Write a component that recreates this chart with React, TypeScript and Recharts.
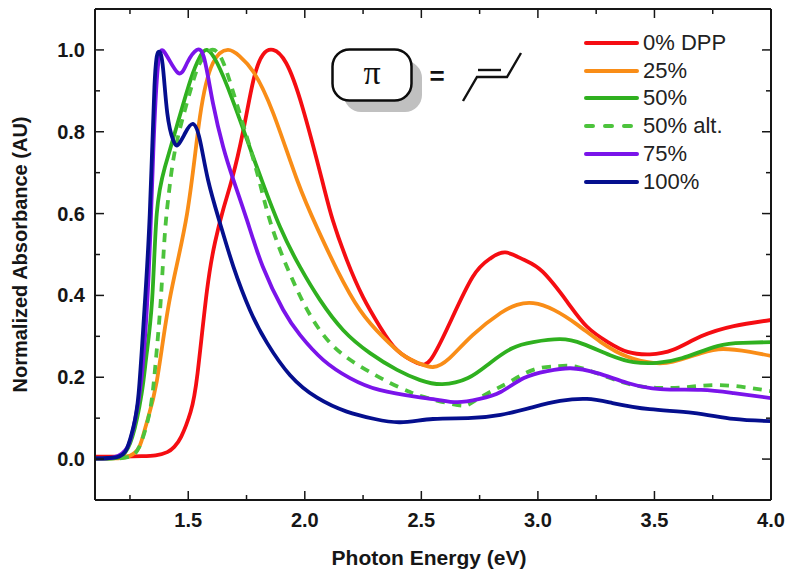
import { LineChart, Line, XAxis, YAxis } from "recharts";

const FONT = "'Liberation Sans', Arial, sans-serif";
const INK = "#161616";

const xTicks = [1.25, 1.5, 1.75, 2.0, 2.25, 2.5, 2.75, 3.0, 3.25, 3.5, 3.75, 4.0];
const yTicks = [0, 0.1, 0.2, 0.3, 0.4, 0.5, 0.6, 0.7, 0.8, 0.9, 1.0];
const xMajor = [1.5, 2.0, 2.5, 3.0, 3.5, 4.0];
const yMajor = [0, 0.2, 0.4, 0.6, 0.8, 1.0];

const redX = [1.1, 1.2, 1.3, 1.36, 1.41, 1.44, 1.47, 1.51, 1.54, 1.58, 1.615, 1.65, 1.688, 1.735, 1.78, 1.82, 1.864, 1.92, 1.99, 2.074, 2.12, 2.18, 2.25, 2.323, 2.396, 2.482, 2.54, 2.62, 2.72, 2.795, 2.86, 2.94, 3.02, 3.125, 3.21, 3.3, 3.385, 3.48, 3.58, 3.7, 3.84, 4.0];
const redY = [0.006, 0.006, 0.007, 0.009, 0.017, 0.03, 0.055, 0.115, 0.21, 0.41, 0.53, 0.61, 0.685, 0.8, 0.927, 0.988, 1.0, 0.968, 0.86, 0.682, 0.584, 0.487, 0.396, 0.323, 0.266, 0.235, 0.243, 0.33, 0.445, 0.49, 0.505, 0.487, 0.458, 0.385, 0.324, 0.286, 0.262, 0.256, 0.267, 0.3, 0.325, 0.34];

const orangeX = [1.1, 1.2, 1.25, 1.29, 1.32, 1.365, 1.42, 1.495, 1.55, 1.606, 1.67, 1.72, 1.78, 1.864, 1.967, 2.053, 2.139, 2.237, 2.336, 2.422, 2.486, 2.55, 2.62, 2.72, 2.84, 2.91, 2.98, 3.07, 3.17, 3.27, 3.385, 3.495, 3.58, 3.7, 3.795, 3.91, 4.0];
const orangeY = [0.002, 0.002, 0.008, 0.03, 0.085, 0.19, 0.389, 0.6, 0.836, 0.968, 1.0, 0.985, 0.946, 0.846, 0.682, 0.565, 0.462, 0.364, 0.298, 0.254, 0.235, 0.225, 0.246, 0.303, 0.357, 0.377, 0.381, 0.364, 0.328, 0.286, 0.25, 0.235, 0.238, 0.259, 0.269, 0.262, 0.252];

const greenX = [1.1, 1.18, 1.22, 1.26, 1.3, 1.32, 1.345, 1.365, 1.4, 1.45, 1.51, 1.55, 1.58, 1.624, 1.69, 1.765, 1.815, 1.894, 1.98, 2.065, 2.165, 2.28, 2.396, 2.495, 2.59, 2.7, 2.795, 2.89, 2.98, 3.095, 3.195, 3.31, 3.41, 3.51, 3.62, 3.77, 3.88, 4.0];
const greenY = [0.0, 0.002, 0.01, 0.054, 0.16, 0.25, 0.389, 0.6, 0.714, 0.812, 0.927, 0.983, 1.0, 0.968, 0.878, 0.76, 0.682, 0.567, 0.469, 0.389, 0.315, 0.259, 0.218, 0.193, 0.183, 0.198, 0.235, 0.271, 0.286, 0.293, 0.281, 0.254, 0.237, 0.235, 0.247, 0.276, 0.284, 0.286];

const altX = [1.207, 1.25, 1.29, 1.33, 1.35, 1.365, 1.383, 1.4, 1.42, 1.45, 1.51, 1.55, 1.6, 1.645, 1.69, 1.75, 1.8, 1.843, 1.894, 1.954, 2.023, 2.117, 2.237, 2.366, 2.443, 2.51, 2.655, 2.72, 2.795, 2.87, 2.98, 3.08, 3.17, 3.3, 3.41, 3.52, 3.64, 3.77, 3.91, 4.0];
const altY = [0.002, 0.006, 0.03, 0.103, 0.176, 0.267, 0.396, 0.553, 0.665, 0.773, 0.902, 0.968, 1.0, 0.976, 0.902, 0.79, 0.69, 0.597, 0.511, 0.43, 0.352, 0.279, 0.227, 0.186, 0.166, 0.152, 0.132, 0.139, 0.164, 0.186, 0.218, 0.227, 0.225, 0.2, 0.181, 0.174, 0.176, 0.181, 0.174, 0.166];

const purpleX = [1.1, 1.18, 1.24, 1.27, 1.3, 1.33, 1.35, 1.37, 1.4, 1.456, 1.495, 1.537, 1.57, 1.606, 1.65, 1.694, 1.752, 1.82, 1.907, 1.98, 2.08, 2.194, 2.32, 2.48, 2.57, 2.655, 2.75, 2.84, 2.94, 3.04, 3.14, 3.255, 3.385, 3.525, 3.7, 3.84, 4.0];
const purpleY = [0.001, 0.004, 0.03, 0.09, 0.2, 0.45, 0.75, 0.96, 0.993, 0.944, 0.968, 1.0, 0.976, 0.87, 0.763, 0.682, 0.584, 0.47, 0.365, 0.303, 0.242, 0.198, 0.169, 0.152, 0.145, 0.139, 0.147, 0.164, 0.198, 0.215, 0.222, 0.21, 0.186, 0.171, 0.169, 0.161, 0.149];

const navyX = [1.1, 1.194, 1.237, 1.265, 1.287, 1.31, 1.335, 1.355, 1.372, 1.39, 1.41, 1.435, 1.456, 1.487, 1.52, 1.55, 1.585, 1.636, 1.694, 1.765, 1.838, 1.937, 2.053, 2.18, 2.3, 2.41, 2.55, 2.7, 2.84, 2.98, 3.095, 3.21, 3.32, 3.48, 3.665, 3.84, 4.0];
const navyY = [0.002, 0.005, 0.026, 0.079, 0.16, 0.347, 0.6, 0.91, 0.995, 0.965, 0.846, 0.78, 0.768, 0.797, 0.819, 0.78, 0.682, 0.577, 0.47, 0.364, 0.284, 0.205, 0.15, 0.116, 0.098, 0.09, 0.098, 0.1, 0.108, 0.127, 0.142, 0.147, 0.137, 0.122, 0.113, 0.098, 0.093];

const zip = (xs: number[], ys: number[]) => xs.map((x, i) => ({ x, y: ys[i] }));

const series = [
  { name: "0% DPP", color: "#f50d12", data: zip(redX, redY) },
  { name: "25%", color: "#f98d17", data: zip(orangeX, orangeY) },
  { name: "50%", color: "#2fb01f", data: zip(greenX, greenY) },
  { name: "50% alt.", color: "#4cc33c", dash: "9 7.5", data: zip(altX, altY) },
  { name: "75%", color: "#7a14ea", data: zip(purpleX, purpleY) },
  { name: "100%", color: "#050f8e", data: zip(navyX, navyY) },
];

const isMajor = (list: number[], v: number) => list.some((m) => Math.abs(m - v) < 1e-6);

// ticks point into the plot on all four sides, labels only on bottom and left
function BottomTick({ x, y, payload }: any) {
  const major = isMajor(xMajor, payload.value);
  return (
    <g>
      <line x1={x} x2={x} y1={y} y2={y - (major ? 9 : 5)} stroke={INK} strokeWidth={1.5} />
      {major && (
        <text x={x} y={y + 27} textAnchor="middle" fontFamily={FONT} fontWeight="bold" fontSize={20} fill={INK}>
          {payload.value.toFixed(1)}
        </text>
      )}
    </g>
  );
}

function TopTick({ x, y, payload }: any) {
  const major = isMajor(xMajor, payload.value);
  return <line x1={x} x2={x} y1={y} y2={y + (major ? 9 : 5)} stroke={INK} strokeWidth={1.5} />;
}

function LeftTick({ x, y, payload }: any) {
  const major = isMajor(yMajor, payload.value);
  return (
    <g>
      <line x1={x} x2={x + (major ? 9 : 5)} y1={y} y2={y} stroke={INK} strokeWidth={1.5} />
      {major && (
        <text x={x - 10} y={y + 7} textAnchor="end" fontFamily={FONT} fontWeight="bold" fontSize={20} fill={INK}>
          {payload.value.toFixed(1)}
        </text>
      )}
    </g>
  );
}

function RightTick({ x, y, payload }: any) {
  const major = isMajor(yMajor, payload.value);
  return <line x1={x} x2={x - (major ? 9 : 5)} y1={y} y2={y} stroke={INK} strokeWidth={1.5} />;
}

function LegendList() {
  return (
    <div style={{ position: "absolute", left: 584, top: 29, fontFamily: FONT, fontSize: 22, color: "#222" }}>
      {series.map((s) => (
        <div key={s.name} style={{ display: "flex", alignItems: "center", height: 27.8 }}>
          <svg width={55} height={6} style={{ marginRight: 4 }}>
            <line x1={2} x2={53} y1={3} y2={3} stroke={s.color} strokeWidth={4} strokeLinecap="round" strokeDasharray={s.dash ? "7 12" : undefined} />
          </svg>
          {s.name}
        </div>
      ))}
    </div>
  );
}

function PiInset() {
  return (
    <svg width={786} height={571} style={{ position: "absolute", left: 0, top: 0, pointerEvents: "none" }}>
      <rect x={344} y={61} width={78} height={51} rx={17} fill="#c0c0c0" />
      <rect x={332.5} y={49.5} width={79} height={51} rx={17} fill="#fff" stroke="#0c0c0c" strokeWidth={2.5} />
      <text x={372} y={84} textAnchor="middle" fontFamily="'Liberation Serif', serif" fontSize={34} fill="#111">π</text>
      <text x={437} y={85} textAnchor="middle" fontFamily={FONT} fontWeight="bold" fontSize={26} fill="#111">=</text>
      <path d="M463 101 L477 77 L507 77 L521 53" fill="none" stroke="#111" strokeWidth={2.4} />
      <line x1={478} x2={501} y1={70} y2={70} stroke="#111" strokeWidth={2.4} />
    </svg>
  );
}

export default function App() {
  return (
    <div style={{ position: "absolute", left: 0, top: 0, width: 786, height: 571 }}>
      <LineChart width={786} height={571} margin={{ top: 8, right: 14, bottom: 70, left: 94 }}>
        <XAxis
          type="number"
          dataKey="x"
          domain={[1.1, 4.0]}
          ticks={xTicks}
          interval={0}
          height={1}
          tickSize={0}
          tickMargin={0}
          tickLine={false}
          tick={BottomTick}
          axisLine={{ stroke: INK, strokeWidth: 2 }}
          allowDataOverflow
          label={{ value: "Photon Energy (eV)", position: "bottom", offset: 49, dx: -4, fontFamily: FONT, fontWeight: "bold", fontSize: 21, fill: INK }}
        />
        <XAxis
          xAxisId="top"
          orientation="top"
          type="number"
          dataKey="x"
          domain={[1.1, 4.0]}
          ticks={xTicks}
          interval={0}
          height={1}
          tickSize={0}
          tickMargin={0}
          tickLine={false}
          tick={TopTick}
          axisLine={{ stroke: INK, strokeWidth: 2 }}
          allowDataOverflow
        />
        <YAxis
          type="number"
          domain={[-0.1, 1.1]}
          ticks={yTicks}
          interval={0}
          width={1}
          tickSize={0}
          tickMargin={0}
          tickLine={false}
          tick={LeftTick}
          axisLine={{ stroke: INK, strokeWidth: 2 }}
          allowDataOverflow
          label={{ value: "Normalized Absorbance (AU)", angle: -90, position: "left", offset: 74, fontFamily: FONT, fontWeight: "bold", fontSize: 20, fill: INK, style: { textAnchor: "middle" } }}
        />
        <YAxis
          yAxisId="right"
          orientation="right"
          type="number"
          domain={[-0.1, 1.1]}
          ticks={yTicks}
          interval={0}
          width={1}
          tickSize={0}
          tickMargin={0}
          tickLine={false}
          tick={RightTick}
          axisLine={{ stroke: INK, strokeWidth: 2 }}
          allowDataOverflow
        />
        {series.map((s) => (
          <Line
            key={s.name}
            data={s.data}
            dataKey="y"
            name={s.name}
            type="natural"
            stroke={s.color}
            strokeWidth={3.8}
            strokeDasharray={s.dash}
            dot={false}
            activeDot={false}
            isAnimationActive={false}
          />
        ))}
      </LineChart>
      <LegendList />
      <PiInset />
    </div>
  );
}
